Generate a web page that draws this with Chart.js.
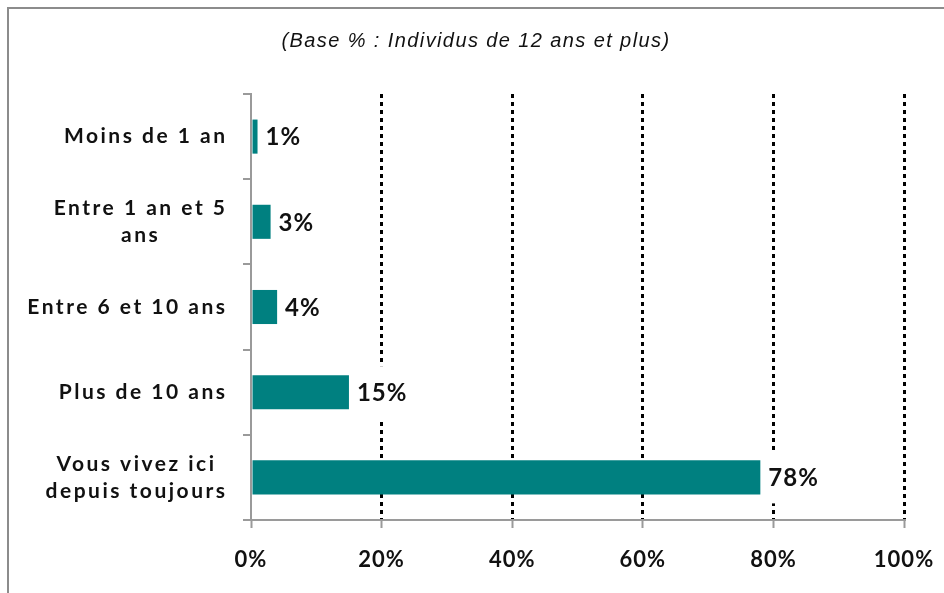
<!DOCTYPE html>
<html>
<head>
<meta charset="utf-8">
<script src="https://cdn.jsdelivr.net/npm/chart.js@4"></script>
<style>
  html, body { margin: 0; padding: 0; background: #fff; }
  #wrap { width: 944px; height: 593px; }
</style>
</head>
<body>
<div id="wrap"><canvas id="chart" width="944" height="593"></canvas></div>
<script>
// Durée de résidence
const categories = [
  ['Moins de 1 an'],
  ['Entre 1 an et 5', 'ans'],
  ['Entre 6 et 10 ans'],
  ['Plus de 10 ans'],
  ['Vous vivez ici', 'depuis toujours']
];
const values = [1, 3, 4, 15, 78];
const xTicks = [0, 20, 40, 60, 80, 100];
const subtitle = '(Base % : Individus de 12 ans et plus)';

const teal = '#008080';
const axisGrey = '#9a9a9a';

// cadre, sous-titre, libellés des catégories et étiquettes de valeurs
const decorPlugin = {
  id: 'decor',
  beforeDraw(chart) {
    const ctx = chart.ctx;
    // espacement des lettres pour les graduations
    ctx.letterSpacing = '1px';
    ctx.save();
    ctx.strokeStyle = '#8c8c8c';
    ctx.lineWidth = 2;
    ctx.beginPath();
    ctx.moveTo(8, 593);
    ctx.lineTo(8, 8);
    ctx.lineTo(944, 8);
    ctx.stroke();

    ctx.fillStyle = '#111';
    ctx.letterSpacing = '1.4px';
    ctx.font = 'italic 20px "Liberation Sans"';
    ctx.textAlign = 'center';
    ctx.textBaseline = 'middle';
    ctx.fillText(subtitle, 476, 41);
    ctx.restore();
  },
  afterDraw(chart) {
    const ctx = chart.ctx;
    const y = chart.scales.y;
    const x = chart.scales.x;
    ctx.save();
    ctx.letterSpacing = '2.5px';
    ctx.font = 'bold 21px Lato';
    ctx.fillStyle = '#111';
    ctx.textBaseline = 'middle';
    ctx.textAlign = 'center';
    const rightEdge = 226;
    const lineH = 27;
    categories.forEach((lines, i) => {
      const cy = y.getPixelForValue(i);
      const w = Math.max(...lines.map(l => ctx.measureText(l).width));
      const cx = rightEdge - w / 2;
      const top = cy - (lines.length - 1) * lineH / 2;
      lines.forEach((l, j) => ctx.fillText(l, cx + 1.5, top + j * lineH));
    });

    // étiquettes de valeurs sur fond blanc
    ctx.letterSpacing = '1px';
    ctx.font = 'bold 24px Lato';
    ctx.textAlign = 'left';
    values.forEach((v, i) => {
      const bx = x.getPixelForValue(v);
      const cy = y.getPixelForValue(i);
      const txt = v + '%';
      const w = ctx.measureText(txt).width;
      ctx.fillStyle = '#fff';
      ctx.fillRect(bx + 3, cy - 26, w + 10, 52);
      ctx.fillStyle = '#111';
      ctx.fillText(txt, bx + 8, cy + 1);
    });
    ctx.restore();
  }
};

new Chart(document.getElementById('chart'), {
  type: 'bar',
  data: {
    labels: categories,
    datasets: [{
      data: values,
      backgroundColor: teal,
      borderWidth: 0,
      barPercentage: 0.4,
      categoryPercentage: 1
    }]
  },
  options: {
    indexAxis: 'y',
    responsive: false,
    animation: false,
    layout: { padding: { top: 94, right: 40, left: 0, bottom: 0 } },
    plugins: {
      legend: { display: false },
      tooltip: { enabled: false }
    },
    scales: {
      x: {
        min: 0,
        max: 100,
        z: 1,
        afterBuildTicks: (scale) => { scale.ticks = xTicks.map(v => ({ value: v })); },
        afterFit: (scale) => {
          scale.height = 73;
          scale.paddingLeft = 0;
          scale.paddingRight = 0;
        },
        border: { color: axisGrey, width: 2, dash: [4, 4] },
        grid: {
          color: (c) => c.tick && c.tick.value === 0 ? 'rgba(0,0,0,0)' : '#000',
          lineWidth: 3,
          tickColor: axisGrey,
          tickWidth: 2,
          tickLength: 8,
          tickBorderDash: []
        },
        ticks: {
          padding: 19,
          color: '#111',
          font: { family: 'Lato', weight: 'bold', size: 22 },
          callback: (v) => v + '%'
        }
      },
      y: {
        afterFit: (scale) => { scale.width = 251; },
        border: { color: axisGrey, width: 2 },
        grid: {
          offset: true,
          drawOnChartArea: false,
          color: axisGrey,
          lineWidth: 2,
          tickLength: 8
        },
        ticks: { display: false }
      }
    }
  },
  plugins: [decorPlugin]
});
</script>
</body>
</html>
